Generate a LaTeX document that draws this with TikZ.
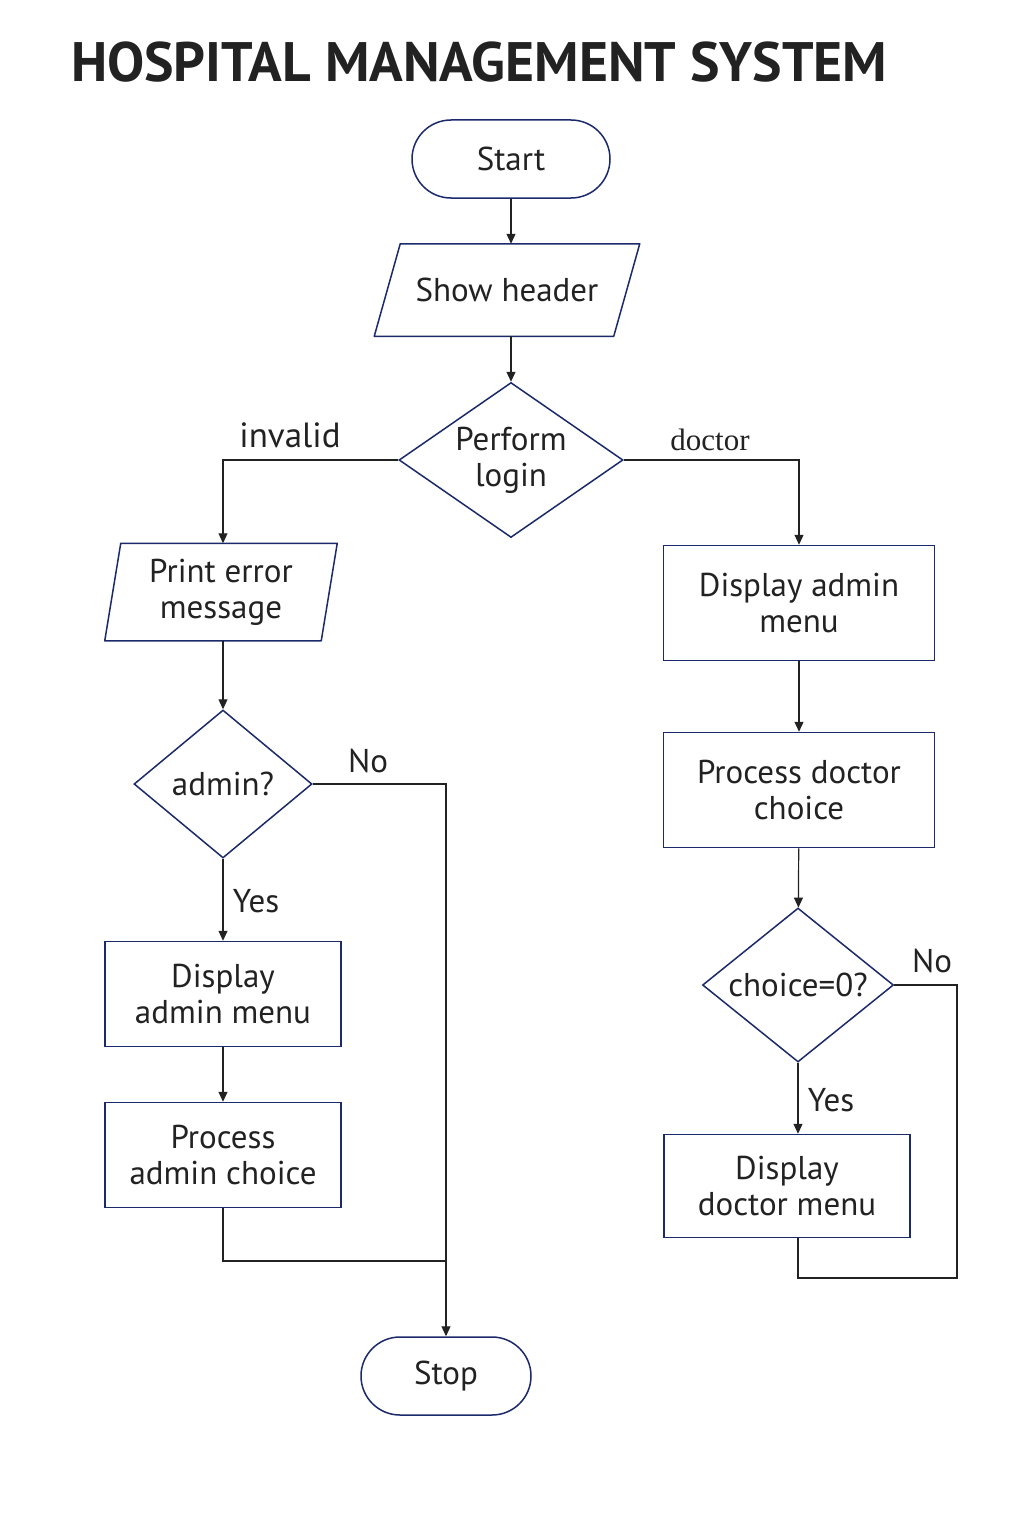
\documentclass[tikz,border=0pt]{standalone}
\usepackage{fontspec}
\setmainfont{PT Sans}
\newfontfamily\seriflabel{Liberation Serif}
\usetikzlibrary{shapes.geometric,arrows.meta}
\definecolor{boxblue}{HTML}{1B2A6B}
\definecolor{inkgray}{HTML}{222222}

\begin{document}
\begin{tikzpicture}[x=0.5pt,y=-0.5pt,
 box/.style={draw=boxblue,line width=0.75pt,fill=white,align=center,text=inkgray,
   font=\fontsize{16.5}{18}\selectfont,inner sep=0pt},
 term/.style={box,rectangle,rounded corners=19.5pt,minimum height=39pt},
 proc/.style={box,rectangle},
 decision/.style={box,diamond},
 io/.style={box,rectangle,draw=none,fill=none},
 slantbox/.style={draw=boxblue,line width=0.75pt,line join=round},
 flow/.style={draw=inkgray,line width=0.6pt,-{Triangle[length=5pt,width=4.5pt]}},
 link/.style={draw=inkgray,line width=0.6pt},
 tag/.style={text=inkgray,font=\fontsize{16.5}{18}\selectfont}]

 \fill[white] (0,0) rectangle (1024,1536) ;
 \useasboundingbox (0,0) rectangle (1024,1536) ;

 \node[anchor=west,text=inkgray,font=\bfseries\fontsize{27.8}{30}\selectfont] (title) at (64,62) {HOSPITAL MANAGEMENT SYSTEM} ;

 \node[term,minimum width=99pt] (start) at (511,159) {Start} ;
 \node[io,minimum width=119pt,minimum height=45.5pt] (header) at (507,290) {Show header} ;
 \draw[slantbox] ([xshift=6.5pt]header.north west) -- ([xshift=6.5pt]header.north east)
   -- ([xshift=-6.5pt]header.south east) -- ([xshift=-6.5pt]header.south west) -- cycle ;
 \node[decision,aspect=1.45,minimum width=112pt,minimum height=77.5pt] (login) at (511,460) {Perform\\login} ;

 \node[io,minimum width=107.5pt,minimum height=48pt] (error) at (221,592) {Print error\\message} ;
 \draw[slantbox] ([xshift=4pt]error.north west) -- ([xshift=4pt]error.north east)
   -- ([xshift=-4pt]error.south east) -- ([xshift=-4pt]error.south west) -- cycle ;
 \node[decision,aspect=1.2,minimum width=89pt,minimum height=74pt] (admin) at (223,784) {admin?} ;
 \node[proc,minimum width=118pt,minimum height=52.5pt] (adminmenuL) at (223,994) {Display\\admin menu} ;
 \node[proc,minimum width=118pt,minimum height=52.5pt] (adminchoice) at (223,1155) {Process\\admin choice} ;
 \node[term,minimum width=85pt] (stop) at (446,1376) {Stop} ;

 \node[proc,minimum width=135.5pt,minimum height=57.5pt] (adminmenuR) at (799,603) {Display admin\\menu} ;
 \node[proc,minimum width=135.5pt,minimum height=57.5pt] (doctorchoice) at (799,790) {Process doctor\\choice} ;
 \node[decision,aspect=1.24,minimum width=95.5pt,minimum height=77pt] (zero) at (798,985) {choice=0?} ;
 \node[proc,minimum width=123pt,minimum height=51.5pt] (doctormenu) at (787,1186) {Display\\doctor menu} ;

 \coordinate (join) at (446,1261) ;
 \coordinate (loopcorner) at (957,1278) ;

 \draw[flow] (start) -- (header.north -| start.south) ;
 \draw[flow] (header.south -| login.north) -- (login.north) ;
 \draw[flow] (login.west) -| (error.north -| admin.north) ;
 \draw[flow] (login.east) -| (adminmenuR.north) ;

 \draw[flow] (error.south -| admin.north) -- (admin.north) ;
 \draw[flow] (admin) -- (adminmenuL) ;
 \draw[flow] (adminmenuL) -- (adminchoice) ;
 \draw[flow] (admin.east) -| (stop.north) ;
 \draw[link] (adminchoice.south) |- (join) ;

 \draw[flow] (adminmenuR) -- (doctorchoice) ;
 \draw[flow] (doctorchoice) -- (zero) ;
 \draw[flow] (zero.south) -- (zero.south |- doctormenu.north) ;
 \draw[link] (zero.east) -| (loopcorner) -| (zero.south |- doctormenu.south) ;

 \node[tag,font=\fontsize{17.5}{19}\selectfont] (invalid) at (290,435) {invalid} ;
 \node[tag,font=\seriflabel\fontsize{15.5}{17}\selectfont] (doctor) at (710,440) {doctor} ;
 \node[tag] (noA) at (368,761) {No} ;
 \node[tag] (yesA) at (256,901) {Yes} ;
 \node[tag] (noB) at (932,961) {No} ;
 \node[tag] (yesB) at (831,1100) {Yes} ;

\end{tikzpicture}
\end{document}
